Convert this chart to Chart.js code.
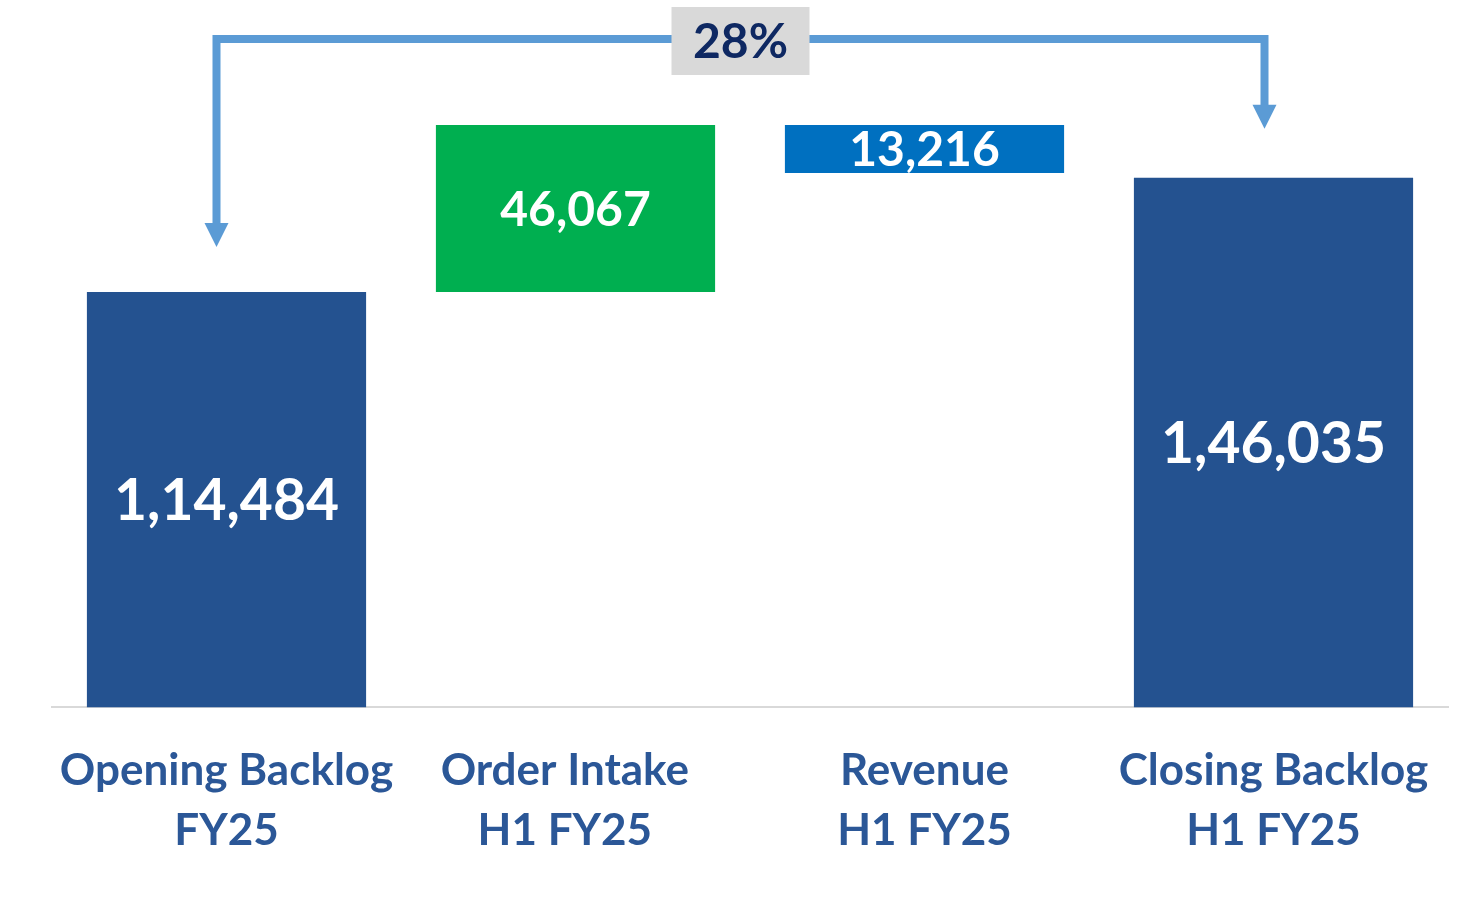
<!DOCTYPE html>
<html>
<head>
<meta charset="utf-8">
<script src="https://cdn.jsdelivr.net/npm/chart.js@4.4.1/dist/chart.umd.min.js"></script>
<style>
  html, body { margin: 0; padding: 0; background: #ffffff; }
  #wrap { width: 1468px; height: 913px; }
</style>
</head>
<body>
<div id="wrap"><canvas id="backlogChart"></canvas></div>
<script>
// Backlog walk: opening -> order intake -> revenue -> closing
const categories = [
  ["Opening Backlog", "FY25"],
  ["Order Intake\u00A0\u00A0", "H1 FY25\u00A0\u00A0"],
  ["Revenue", "H1 FY25"],
  ["Closing Backlog", "H1 FY25"],
];
const openingBacklog = 114484;
const orderIntake = 46067;
const revenue = 13216;
const closingBacklog = 146035;

const barColors = ["#245290", "#00AF50", "#0070C0", "#245290"];
const labelBlue = "#2B5797";
const arrowBlue = "#5B9BD5";

// floating ranges for the waterfall
const peak = openingBacklog + orderIntake;
const ranges = [
  [0, openingBacklog],
  [openingBacklog, peak],
  [peak - revenue, peak],
  [0, closingBacklog],
];
const shownValues = [openingBacklog, orderIntake, revenue, closingBacklog];
const valueFontSizes = [57, 48, 48, 57];

const growthPct = Math.round(
  ((closingBacklog - openingBacklog) / openingBacklog) * 100
);

// Indian digit grouping, e.g. 1,14,484
function formatIN(n) {
  const s = String(Math.round(n));
  if (s.length <= 3) return s;
  const last3 = s.slice(-3);
  let rest = s.slice(0, -3);
  const parts = [];
  while (rest.length > 2) {
    parts.unshift(rest.slice(-2));
    rest = rest.slice(0, -2);
  }
  if (rest) parts.unshift(rest);
  return parts.join(",") + "," + last3;
}

const valueLabels = {
  id: "valueLabels",
  afterDatasetsDraw(chart) {
    const ctx = chart.ctx;
    const meta = chart.getDatasetMeta(0);
    ctx.save();
    ctx.fillStyle = "#ffffff";
    ctx.textAlign = "center";
    ctx.textBaseline = "middle";
    meta.data.forEach((bar, i) => {
      ctx.font = "bold " + valueFontSizes[i] + "px Lato";
      const midY = (bar.y + bar.base) / 2;
      ctx.fillText(formatIN(shownValues[i]), bar.x, midY + 2);
    });
    ctx.restore();
  },
};

// bracket arrow from opening to closing with the growth badge
const growthBracket = {
  id: "growthBracket",
  afterDraw(chart) {
    const ctx = chart.ctx;
    const meta = chart.getDatasetMeta(0);
    const first = meta.data[0];
    const last = meta.data[3];
    const x1 = first.x - 10;
    const x2 = last.x - 9;
    const topY = 39;
    const tip1 = first.y - 45;
    const tip2 = last.y - 49;
    const headLen = 24;
    const headHalf = 12;

    ctx.save();
    ctx.strokeStyle = arrowBlue;
    ctx.fillStyle = arrowBlue;
    ctx.lineWidth = 8;
    ctx.lineJoin = "miter";
    ctx.beginPath();
    ctx.moveTo(x1, tip1 - headLen + 1);
    ctx.lineTo(x1, topY);
    ctx.lineTo(x2, topY);
    ctx.lineTo(x2, tip2 - headLen + 1);
    ctx.stroke();

    [[x1, tip1], [x2, tip2]].forEach(([x, tip]) => {
      ctx.beginPath();
      ctx.moveTo(x - headHalf, tip - headLen);
      ctx.lineTo(x + headHalf, tip - headLen);
      ctx.lineTo(x, tip);
      ctx.closePath();
      ctx.fill();
    });

    const cx = (x1 + x2) / 2;
    const boxW = 138;
    const boxH = 68;
    ctx.fillStyle = "#D9D9D9";
    ctx.fillRect(cx - boxW / 2, topY - 32, boxW, boxH);
    ctx.fillStyle = "#0E2862";
    ctx.font = "bold 48px Lato";
    ctx.textAlign = "center";
    ctx.textBaseline = "middle";
    ctx.fillText(growthPct + "%", cx, topY + 4);
    ctx.restore();
  },
};

const ctx = document.getElementById("backlogChart").getContext("2d");
new Chart(ctx, {
  type: "bar",
  data: {
    labels: categories,
    datasets: [
      {
        data: ranges,
        backgroundColor: barColors,
        borderWidth: 0,
        borderSkipped: false,
        barPercentage: 0.8,
        categoryPercentage: 1.0,
      },
    ],
  },
  options: {
    responsive: true,
    maintainAspectRatio: false,
    animation: false,
    layout: {
      padding: { left: 52, right: 20, top: 0, bottom: 27 },
    },
    plugins: {
      legend: { display: false },
      tooltip: { enabled: false },
    },
    scales: {
      x: {
        grid: { display: false },
        border: { display: true, color: "#D9D9D9", width: 2 },
        ticks: {
          color: labelBlue,
          padding: 25,
          maxRotation: 0,
          autoSkip: false,
          font: { family: "Lato", weight: "bold", size: 44, lineHeight: 1.37 },
        },
      },
      y: {
        display: false,
        min: 0,
        max: 195000,
      },
    },
  },
  plugins: [valueLabels, growthBracket],
});
</script>
</body>
</html>
